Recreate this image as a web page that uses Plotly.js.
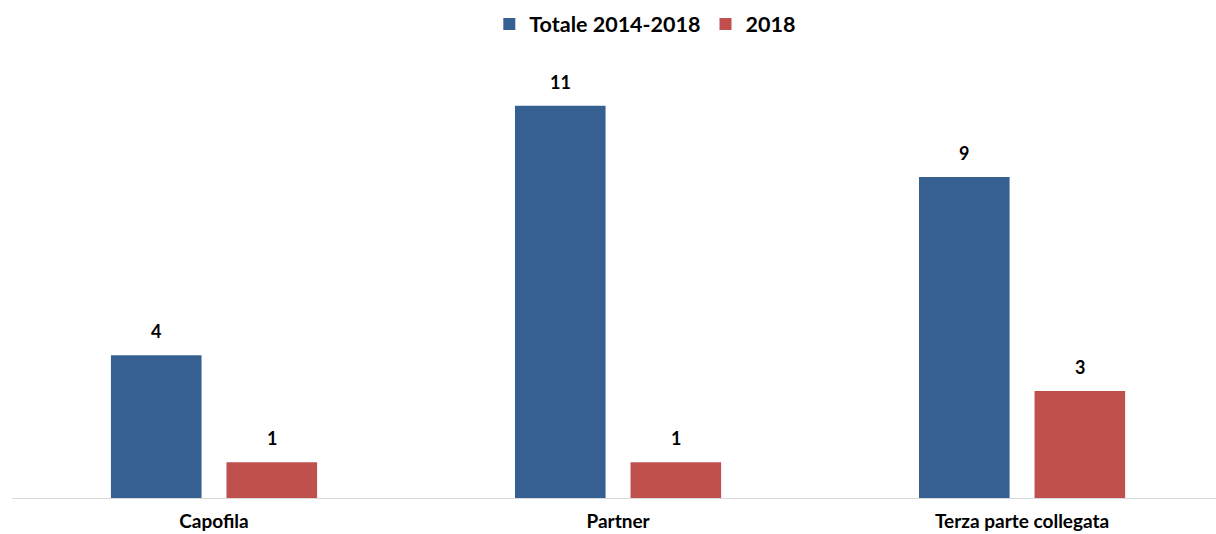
<!DOCTYPE html>
<html>
<head>
<meta charset="utf-8">
<script src="https://cdn.plot.ly/plotly-3.0.1.min.js"></script>
<style>html,body{margin:0;padding:0;background:#fff;}#chart{width:1216px;height:534px;}</style>
</head>
<body>
<div id="chart"></div>
<script>
var categories = ["Capofila", "Partner", "Terza parte collegata"];
var seriesNames = ["Totale 2014-2018", "2018"];
var totale = [4, 11, 9];
var anno2018 = [1, 1, 3];

var colors = ["#376092", "#C0504D"];
var seriesValues = [totale, anno2018];
var idx = categories.map(function (c, i) { return i; });

var traces = seriesValues.map(function (vals, s) {
  return {
    type: "bar",
    name: seriesNames[s],
    x: idx,
    y: vals,
    marker: { color: colors[s] },
    hoverinfo: "none"
  };
});

var bargap = 0.428, bargroupgap = 0.216;
var slot = (1 - bargap) / 2;
var annotations = [];
seriesValues.forEach(function (vals, s) {
  var off = (s - 0.5) * slot;
  vals.forEach(function (v, i) {
    annotations.push({
      x: i + off, y: v, xref: "x", yref: "y",
      text: String(v), showarrow: false,
      yanchor: "middle", yshift: 24,
      font: { family: "Lato", size: 18, color: "#000", weight: 700 }
    });
  });
});

var layout = {
  width: 1216, height: 534,
  margin: { l: 12, r: 0, t: 70, b: 36, pad: 0 },
  paper_bgcolor: "#fff", plot_bgcolor: "#fff",
  barmode: "group", bargap: bargap, bargroupgap: bargroupgap,
  font: { family: "Lato", size: 18, color: "#000", weight: 700 },
  showlegend: true,
  legend: {
    orientation: "h", x: 0.526, xanchor: "center", y: 1.1075, yanchor: "middle",
    font: { family: "Lato", size: 21.5, color: "#000", weight: 700 },
    traceorder: "normal"
  },
  xaxis: {
    range: [-0.5, 2.48],
    tickmode: "array", tickvals: idx, ticktext: categories,
    showgrid: false, zeroline: false,
    showline: true, linecolor: "#d9d9d9", linewidth: 1,
    ticks: "", fixedrange: true, ticklabelstandoff: 6,
    tickfont: { family: "Lato", size: 19, color: "#000", weight: 700 }
  },
  yaxis: {
    range: [0, 12], visible: false, showgrid: false, zeroline: false, fixedrange: true
  },
  annotations: annotations
};

Plotly.newPlot("chart", traces, layout, { displayModeBar: false, staticPlot: true });
</script>
</body>
</html>
